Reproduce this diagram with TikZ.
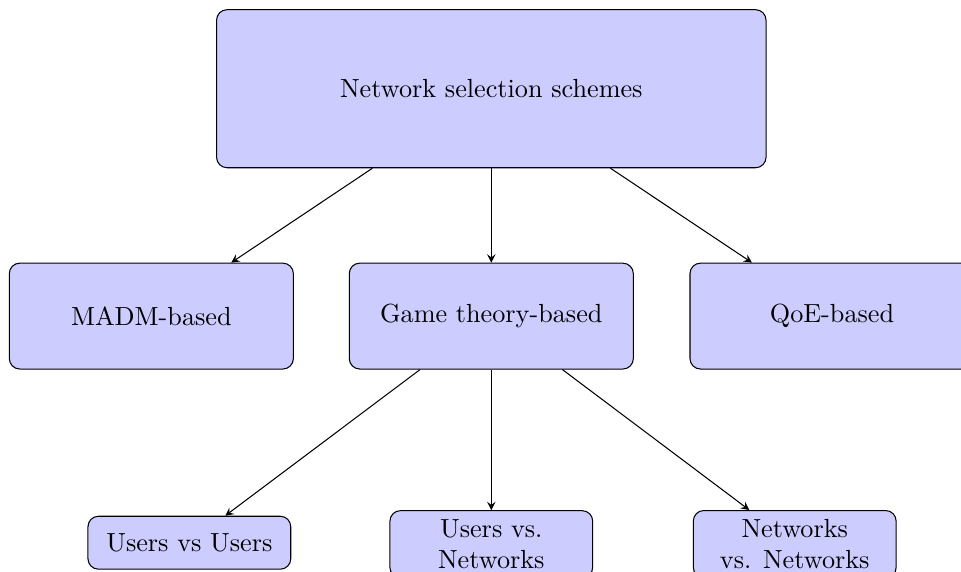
\documentclass[tikz,border=0pt]{standalone}
\usetikzlibrary{arrows}
\tikzset{
  bigbox/.style={draw,rounded corners,fill=blue!20,minimum width=7.37cm,minimum height=2.12cm},
  midbox/.style={draw,rounded corners,fill=blue!20,minimum width=3.81cm,minimum height=1.42cm},
  smallbox/.style={draw,rounded corners,fill=blue!20,minimum width=2.72cm,minimum height=0.71cm,align=center},
}
\begin{document}
\begin{tikzpicture}[>=stealth]
				\useasboundingbox(0,0)rectangle(12.89,7.66);
				\node[bigbox](nss)at(6.59,6.47){Network selection schemes};
				\node[midbox](madm)at(2.03,3.42){MADM-based};
				\node[midbox](game)at(6.59,3.42){Game theory-based};
				\node[midbox](qoe)at(11.16,3.42){QoE-based};
				\node[smallbox](uu)at(2.54,0.38){Users vs Users};
				\node[smallbox](un)at(6.59,0.36){Users vs.\\Networks};
				\node[smallbox](nn)at(10.66,0.36){Networks\\vs. Networks};
				\draw[->](nss)--(madm);
				\draw[->](nss)--(game);
				\draw[->](nss)--(qoe);
				\draw[->](game)--(uu);
				\draw[->](game)--(un);
				\draw[->](game)--(nn);
\end{tikzpicture}
\end{document}
